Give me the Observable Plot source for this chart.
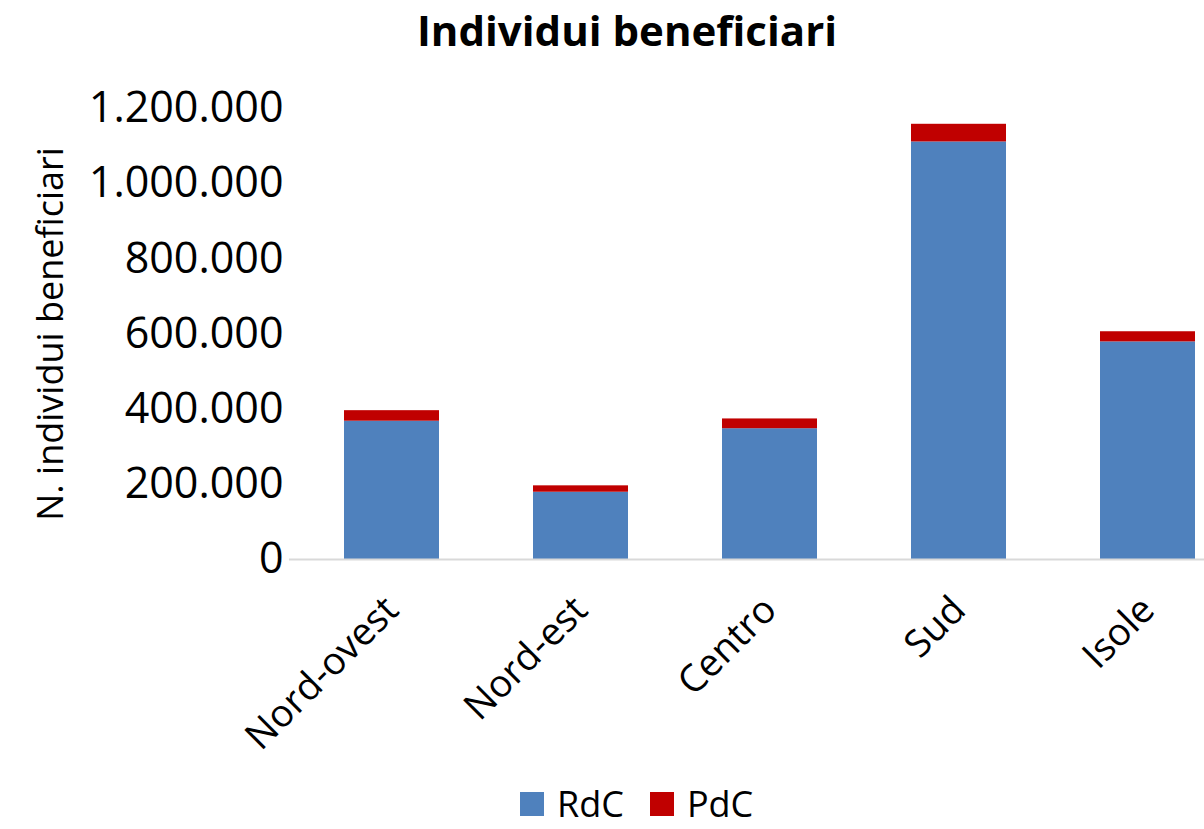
<!DOCTYPE html>
<html>
<head>
<meta charset="utf-8">
<script src="https://cdn.jsdelivr.net/npm/d3@7"></script>
<script src="https://cdn.jsdelivr.net/npm/@observablehq/plot@0.6"></script>
<style>
  html, body { margin: 0; padding: 0; background: #fff; overflow: hidden; }
  body { width: 1204px; height: 829px; font-family: "Open Sans", sans-serif; position: relative; }
  #title { position: absolute; top: 0; left: 0; width: 1204px; height: 60px; text-align: center;
           font-weight: bold; font-size: 42px; line-height: 60px; padding-left: 50px; box-sizing: border-box; color: #000; }
  #chart { position: absolute; top: 60px; left: 0; }
  #legend { position: absolute; top: 784px; left: 520px; height: 40px; display: flex; align-items: center; font-size: 36px; line-height: 40px; color: #000; }
  .sw { width: 24px; height: 24px; display: inline-block; margin-right: 13px; }
  .item { display: flex; align-items: center; margin-right: 26px; }
</style>
</head>
<body>
<div id="title">Individui beneficiari</div>
<div id="chart"></div>
<div id="legend"></div>
<script>
const regions = ["Nord-ovest", "Nord-est", "Centro", "Sud", "Isole"];
const rdc = [368000, 179000, 348000, 1111000, 579000];
const pdc = [28000, 17000, 26000, 47000, 27000];
const seriesNames = ["RdC", "PdC"];
const seriesColors = ["#4f81bd", "#c00000"];
const yTicks = [0, 200000, 400000, 600000, 800000, 1000000, 1200000];

const data = [];
regions.forEach((r, i) => data.push({region: r, series: "RdC", value: rdc[i]}));
regions.forEach((r, i) => data.push({region: r, series: "PdC", value: pdc[i]}));

const it = d3.formatLocale({decimal: ",", thousands: ".", grouping: [3], currency: ["€", ""]});
const fmt = it.format(",d");

const chart = Plot.plot({
  width: 1204,
  height: 710,
  marginLeft: 289,
  marginRight: 0,
  marginTop: 48,
  marginBottom: 211,
  style: {fontFamily: "Open Sans, sans-serif", fontSize: "42px", color: "#000", background: "#fff"},
  x: {domain: regions, range: [295, 1243], paddingInner: 0.5, paddingOuter: 0.25, label: null},
  y: {domain: [0, 1200000], label: null},
  color: {domain: seriesNames, range: seriesColors},
  marks: [
    Plot.barY(data, {x: "region", y: "value", fill: "series"}),
    Plot.ruleY([0], {stroke: "#d9d9d9", strokeWidth: 2}),
    Plot.axisY({ticks: yTicks, tickFormat: fmt, tickSize: 0, tickPadding: 6, fontSize: 43,
      label: "N. individui beneficiari", labelAnchor: "center", labelArrow: "none", labelOffset: 252}),
    Plot.axisX({tickRotate: -45, tickSize: 0, tickPadding: 44, fontSize: 38, label: null})
  ]
});
document.getElementById("chart").appendChild(chart);
const lbl = [...chart.querySelectorAll("g[aria-label='y-axis label'] text")];
lbl.forEach(t => t.setAttribute("font-size", "36"));

const legend = document.getElementById("legend");
seriesNames.forEach((s, i) => {
  const item = document.createElement("div");
  item.className = "item";
  const sw = document.createElement("span");
  sw.className = "sw";
  sw.style.background = seriesColors[i];
  item.appendChild(sw);
  item.appendChild(document.createTextNode(s));
  legend.appendChild(item);
});
</script>
</body>
</html>
